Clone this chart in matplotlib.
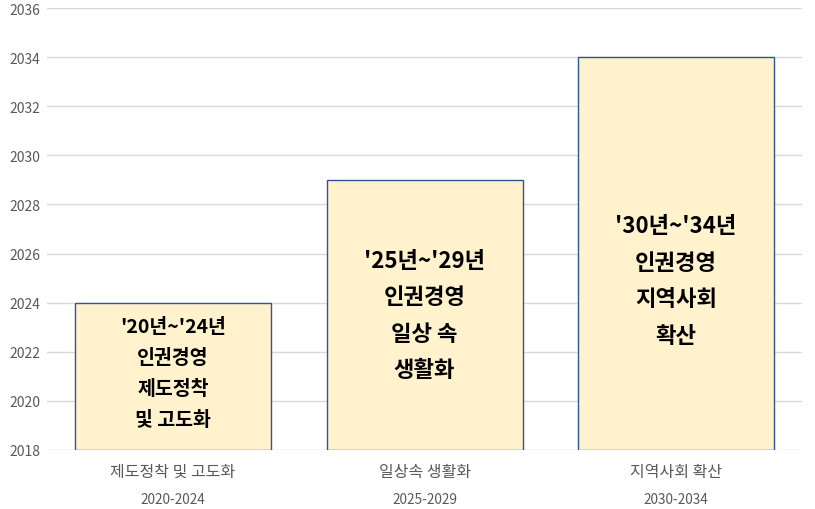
import matplotlib
matplotlib.use('Agg')
import matplotlib.pyplot as plt

plt.rcParams['font.family'] = ['Noto Sans CJK KR', 'DejaVu Sans']

categories = ['제도정착 및 고도화', '일상속 생활화', '지역사회 확산']
periods = ['2020-2024', '2025-2029', '2030-2034']
end_years = [2024, 2029, 2034]
base_year = 2018
bar_texts = ["'20년~'24년\n인권경영\n제도정착\n및 고도화",
             "'25년~'29년\n인권경영\n일상 속\n생활화",
             "'30년~'34년\n인권경영\n지역사회\n확산"]
text_y = [2021.15, 2023.5, 2024.9]
text_size = [14, 16, 16]

fig = plt.figure(figsize=(8.15, 5.1), dpi=100)
ax = fig.add_axes([0.058, 0.116, 0.926, 0.866])

x = range(len(categories))
heights = [e - base_year for e in end_years]
ax.bar(x, heights, bottom=base_year, width=0.78, color='#FFF2CC',
       edgecolor='#2F5597', linewidth=1.0, zorder=3)

for i, t in enumerate(bar_texts):
    ax.text(i, text_y[i], t, ha='center', va='center', fontsize=text_size[i],
            fontweight='bold', linespacing=1.8 if i == 0 else 1.75, zorder=4)

ax.set_ylim(2018, 2036)
ax.set_yticks(range(2018, 2037, 2))
ax.set_xlim(-0.5, 2.5)
ax.set_xticks(list(x))
ax.set_xticklabels([''] * 3)
for i in x:
    ax.text(i, -0.048, categories[i], transform=ax.get_xaxis_transform(),
            ha='center', va='center', fontsize=11.5, color='#595959')
    ax.text(i, -0.112, periods[i], transform=ax.get_xaxis_transform(),
            ha='center', va='center', fontsize=9.8, color='#595959')

ax.grid(axis='y', color='#D9D9D9', linewidth=1.0, zorder=0)
ax.tick_params(axis='both', length=0, labelsize=10, labelcolor='#595959', pad=5)
for s in ax.spines.values():
    s.set_visible(False)

fig.savefig('out.png', dpi=100)
